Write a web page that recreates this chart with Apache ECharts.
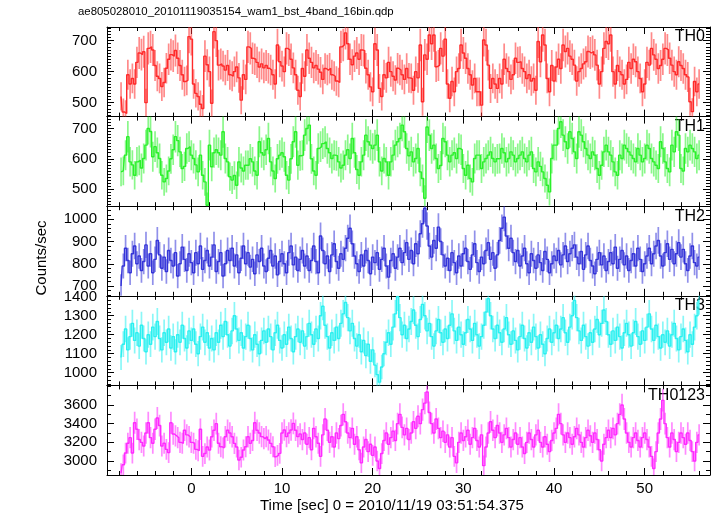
<!DOCTYPE html>
<html><head><meta charset="utf-8">
<script src="https://cdn.jsdelivr.net/npm/echarts@6/dist/echarts.min.js"></script>
<style>html,body{margin:0;padding:0;background:#fff}#c{width:717px;height:516px}</style>
</head><body><div id="c"></div>
<script>
const chartTitle = "ae805028010_20101119035154_wam1_bst_4band_16bin.qdp";
const xTitle = "Time [sec] 0 = 2010/11/19 03:51:54.375";
const yTitle = "Counts/sec";
const bandNames = ["TH0", "TH1", "TH2", "TH3", "TH0123"];
const tStart = -7.875;
const binWidth = 0.25;
const xTickLabels = [0, 10, 20, 30, 40, 50];

const th0 = [
520,470,465,590,560,578,560,630, 660,655,664,500,675,680,670,620,
585,578,552,565,611,640,655,650, 668,643,620,590,568,572,713,705,
560,530,520,495,481,650,622,600, 498,729,700,621,625,618,605,620,
590,585,600,615,580,508,590,575, 680,675,643,640,630,615,625,612,
620,611,605,590,560,686,632,618, 600,675,670,640,612,590,540,520,
610,585,670,643,630,612,620,608, 598,575,610,605,611,590,585,570,
565,680,686,725,690,640,622,650, 660,640,670,668,611,590,551,535,
690,670,546,520,590,580,630,600, 585,573,611,605,590,575,610,580,
578,540,600,580,686,503,654,640, 718,690,718,616,620,675,650,705,
560,514,568,535,600,610,686,660, 643,610,590,557,578,535,535,492,
702,686,621,546,578,560,546,578, 560,640,610,600,575,590,643,630,
632,610,600,578,590,570,578,540, 697,632,718,686,578,535,620,570,
615,640,610,686,665,675,650,640, 621,570,600,610,625,632,665,660,
665,654,621,560,600,675,697,690, 718,600,560,620,600,590,560,575,
630,610,640,632,600,578,535,560, 630,621,675,654,640,610,620,640,
675,670,643,621,600,590,632,620, 610,590,583,503,471,568,535,560];

const th1 = [
557,560,612,673,590,580,546,590, 595,570,601,645,700,690,607,640,
620,601,546,524,535,560,600,630, 673,660,623,568,575,634,640,612,
601,580,557,612,546,524,447,645, 574,620,630,620,612,689,601,590,
541,530,545,513,590,570,560,579, 579,600,590,560,546,656,620,612,
630,667,590,560,535,600,612,620, 607,546,530,600,656,689,579,610,
612,678,700,711,600,560,546,634, 640,650,656,634,620,601,612,610,
590,570,579,612,630,601,667,620, 565,546,590,612,678,656,645,634,
645,678,590,560,601,590,546,590, 612,645,656,667,711,689,634,610,
623,590,601,634,557,535,470,705, 678,634,645,601,568,578,667,656,
612,590,612,620,601,634,630,568, 546,579,535,524,601,612,612,568,
590,601,612,623,601,590,600,601, 634,620,590,601,623,612,590,601,
612,623,601,590,612,623,568,557, 590,575,557,535,513,491,601,645,
645,700,722,678,656,634,689,667, 623,601,689,678,656,634,612,601,
623,612,568,546,579,623,645,623, 612,590,557,546,612,601,645,634,
623,612,601,590,634,612,590,601, 645,634,601,590,579,568,656,634,
590,568,557,645,623,689,678,568, 560,634,623,645,634,623,601,612];

const th2 = [
700,790,870,815,760,845,880,800, 835,770,810,885,790,845,760,820,
905,840,780,830,765,860,815,790, 850,745,800,875,820,770,845,805,
760,850,800,880,775,815,860,790, 830,885,765,810,850,745,800,860,
815,870,790,840,760,825,880,800, 850,785,820,755,840,810,870,790,
765,825,860,790,835,750,810,845, 800,760,850,880,795,830,770,820,
860,790,835,770,815,880,810,760, 925,860,800,835,765,840,890,810,
780,845,820,870,915,960,890,835, 800,765,840,790,860,815,755,830,
805,850,775,820,870,790,740,815, 845,780,830,870,805,850,895,820,
860,800,890,845,935,980,1050,970, 880,830,905,870,965,900,840,790,
825,770,850,805,760,835,790,845, 870,810,775,840,890,805,765,830,
800,860,895,820,850,780,840,905, 960,1010,925,870,915,850,810,860,
790,835,870,800,760,845,815,780, 840,805,770,855,820,760,800,835,
815,860,795,840,880,810,845,870, 885,830,800,855,775,840,880,815,
790,755,820,850,795,835,770,810, 850,800,875,780,820,860,795,835,
770,815,845,790,870,820,765,800, 835,870,800,845,880,905,835,790,
850,890,820,865,800,845,895,830, 865,800,770,835,880,805,790,830];

const th3 = [
1080,1150,1230,1120,1190,1260,1170,1210, 1140,1250,1180,1110,1200,1150,1240,1190,
1270,1180,1120,1210,1160,1230,1130,1190, 1110,1200,1160,1250,1180,1130,1220,1170,
1230,1150,1100,1190,1240,1160,1210,1130, 1180,1120,1210,1160,1250,1190,1270,1200,
1140,1220,1300,1230,1170,1210,1130,1190, 1250,1180,1120,1200,1150,1100,1170,1220,
1160,1230,1190,1120,1210,1250,1170,1130, 1200,1150,1240,1180,1110,1190,1230,1160,
1220,1140,1190,1260,1200,1150,1230,1180, 1300,1350,1250,1190,1130,1210,1170,1240,
1180,1260,1310,1370,1290,1220,1260,1180, 1140,1200,1110,1170,1090,1150,1060,1120,
1040,990,950,1030,1100,1160,1210,1150, 1240,1310,1400,1290,1200,1250,1180,1230,
1270,1330,1250,1190,1280,1360,1300,1220, 1260,1190,1140,1220,1280,1210,1160,1230,
1180,1250,1310,1220,1170,1240,1200,1150, 1210,1280,1230,1170,1260,1200,1140,1190,
1250,1320,1390,1300,1230,1180,1250,1210, 1160,1230,1290,1200,1150,1220,1170,1120,
1190,1250,1180,1130,1210,1160,1240,1190, 1130,1200,1150,1100,1180,1230,1160,1210,
1250,1180,1230,1290,1210,1160,1240,1300, 1380,1290,1220,1170,1250,1190,1140,1210,
1160,1230,1280,1200,1260,1330,1270,1200, 1150,1220,1170,1240,1190,1130,1210,1260,
1200,1140,1210,1270,1190,1150,1220,1170, 1240,1310,1230,1170,1250,1190,1130,1200,
1160,1220,1140,1200,1260,1180,1120,1190, 1230,1170,1110,1200,1150,1240,1300,1380];

const th0123 = [
2870,2960,3085,3190,3250,3085,3410,3340, 3230,3200,3160,3300,3410,3250,3190,3340,
3460,3380,3160,3190,3125,3090,3410,3290, 3270,3250,3200,3190,3330,3280,3260,3200,
3190,3125,3110,3340,3050,3080,3150,3118, 3260,3330,3400,3190,3153,3140,3260,3330,
3300,3260,3189,3150,3010,3040,3118,3153, 3260,3189,3220,3410,3330,3300,3261,3240,
3261,3225,3189,3153,3046,3060,3082,3300, 3332,3261,3300,3332,3403,3330,3261,3290,
3230,3300,3180,3250,3120,3350,3260,3190, 3050,3280,3450,3330,3200,3260,3150,3300,
3240,3380,3500,3420,3300,3250,3350,3180, 3260,3120,2980,3150,3230,3100,3180,3060,
3150,3000,2920,3080,3220,3300,3180,3250, 3320,3220,3400,3500,3360,3280,3350,3230,
3300,3420,3350,3480,3400,3550,3620,3740, 3520,3400,3300,3450,3350,3250,3320,3200,
3280,3150,3250,3050,2980,3200,3300,3220, 3260,3330,3180,3250,3350,3220,3150,3280,
2950,3150,3300,3420,3330,3250,3380,3300, 3200,3280,3350,3250,3150,3230,3300,3180,
3250,3150,3080,3200,3300,3230,3150,3280, 3330,3200,3150,3260,3180,3100,3220,3300,
3350,3500,3400,3280,3200,3300,3250,3180, 3260,3350,3280,3200,3150,3250,3330,3270,
3200,3300,3230,3120,3000,3180,3250,3330, 3250,3350,3280,3400,3500,3600,3450,3300,
3200,3150,3250,3300,3220,3150,3250,3300, 3230,3150,3050,2920,3100,3300,3450,3650,
3400,3250,3150,3300,3230,3100,3200,3300, 3250,3180,3300,3220,3100,3000,3200,3280];

const yTickLabels = [[500,600,700],[500,600,700],[700,800,900,1000],[1000,1100,1200,1300,1400],[3000,3200,3400,3600]];
const yMinorStep = [10,10,20,20,100];
const yRanges = [[455,744],[444,739],[656,1059],[933,1405],[2850,3810]];
const xRange = [-9.3, 57.2];
const xMinorStep = 2;
const colors = ["#ff2a2a", "#2af02a", "#3434d8", "#2af0f0", "#ff2aff"];
const allSeries = [th0, th1, th2, th3, th0123];

const FONT = '"Liberation Sans", Arial, Helvetica, sans-serif';
const L = 107, R = 7, TOP = 27, BOT = 475;
const PH = (BOT - TOP) / 5;

function stepVals(a, b, s) { const out = []; for (let v = Math.ceil(a / s) * s; v <= b + 1e-9; v += s) out.push(+v.toFixed(6)); return out; }

const grid = [], xAxis = [], yAxis = [], series = [], graphic = [];
const xMinor = stepVals(xRange[0], xRange[1], xMinorStep);
const plain = v => String(v);
for (let p = 0; p < 5; p++) {
  const g = { left: L, right: R, top: TOP + p * PH, height: PH };
  grid.push(Object.assign({}, g), Object.assign({}, g));
  const line = { show: true, onZero: false, lineStyle: { color: '#000', width: 1 } };
  const noLine = { show: false, onZero: false };
  const baseX = { type: 'value', min: xRange[0], max: xRange[1], splitLine: { show: false } };
  xAxis.push(Object.assign({}, baseX, { gridIndex: 2 * p, position: 'bottom', axisLine: line,
    axisTick: { show: true, inside: true, length: 7, customValues: xTickLabels, lineStyle: { color: '#000' } },
    axisLabel: { show: p === 4, customValues: xTickLabels, formatter: plain, color: '#000', fontSize: 15, fontFamily: FONT, margin: 6 } }));
  xAxis.push(Object.assign({}, baseX, { gridIndex: 2 * p, position: 'top', axisLine: line,
    axisTick: { show: true, inside: true, length: 7, customValues: xTickLabels, lineStyle: { color: '#000' } },
    axisLabel: { show: false } }));
  xAxis.push(Object.assign({}, baseX, { gridIndex: 2 * p + 1, position: 'bottom', axisLine: noLine,
    axisTick: { show: true, inside: true, length: 4, customValues: xMinor, lineStyle: { color: '#000' } },
    axisLabel: { show: false } }));
  xAxis.push(Object.assign({}, baseX, { gridIndex: 2 * p + 1, position: 'top', axisLine: noLine,
    axisTick: { show: true, inside: true, length: 4, customValues: xMinor, lineStyle: { color: '#000' } },
    axisLabel: { show: false } }));
  const yr = yRanges[p];
  const baseY = { type: 'value', min: yr[0], max: yr[1], splitLine: { show: false } };
  const yMinor = stepVals(yr[0], yr[1], yMinorStep[p]);
  yAxis.push(Object.assign({}, baseY, { gridIndex: 2 * p, position: 'left', axisLine: line,
    axisTick: { show: true, inside: true, length: 7, customValues: yTickLabels[p], lineStyle: { color: '#000' } },
    axisLabel: { show: true, customValues: yTickLabels[p], formatter: plain, color: '#000', fontSize: 15, fontFamily: FONT, margin: 10 } }));
  yAxis.push(Object.assign({}, baseY, { gridIndex: 2 * p, position: 'right', axisLine: line,
    axisTick: { show: true, inside: true, length: 7, customValues: yTickLabels[p], lineStyle: { color: '#000' } },
    axisLabel: { show: false } }));
  yAxis.push(Object.assign({}, baseY, { gridIndex: 2 * p + 1, position: 'left', axisLine: noLine,
    axisTick: { show: true, inside: true, length: 4, customValues: yMinor, lineStyle: { color: '#000' } },
    axisLabel: { show: false } }));
  yAxis.push(Object.assign({}, baseY, { gridIndex: 2 * p + 1, position: 'right', axisLine: noLine,
    axisTick: { show: true, inside: true, length: 4, customValues: yMinor, lineStyle: { color: '#000' } },
    axisLabel: { show: false } }));

  const vals = allSeries[p];
  const pts = vals.map((v, i) => [tStart + binWidth * (i + 0.5), v]);
  const errPts = vals.map((v, i) => [tStart + binWidth * (i + 0.5), v, Math.sqrt(v * binWidth) / binWidth]);
  const col = colors[p];
  series.push({
    type: 'custom', xAxisIndex: 4 * p, yAxisIndex: 4 * p, data: errPts, clip: true, silent: true,
    encode: { x: 0, y: 1 },
    renderItem: (params, api) => {
      const x = api.value(0), v = api.value(1), e = api.value(2);
      const a = api.coord([x, v - e]), b = api.coord([x, v + e]);
      return { type: 'line', shape: { x1: a[0], y1: a[1], x2: b[0], y2: b[1] },
        style: { stroke: col, lineWidth: 1.7, opacity: 0.55 } };
    }
  });
  series.push({
    type: 'line', xAxisIndex: 4 * p, yAxisIndex: 4 * p, data: pts, step: 'middle',
    showSymbol: false, symbol: 'none', clip: true, silent: true,
    lineStyle: { color: col, width: 1.4 }
  });
  graphic.push({ type: 'text', right: 12, top: TOP + p * PH + 2,
    style: { text: bandNames[p], fill: '#000', fontSize: 16, fontFamily: FONT } });
}
graphic.push({ type: 'text', left: 78, top: 6, style: { text: chartTitle, fill: '#000', fontSize: 11.4, fontFamily: FONT } });
graphic.push({ type: 'text', left: 260, top: 498, style: { text: xTitle, fill: '#000', fontSize: 15, fontFamily: FONT } });
graphic.push({ type: 'text', x: 42, y: 258, rotation: Math.PI / 2,
  style: { text: yTitle, fill: '#000', fontSize: 15, fontFamily: FONT, align: 'center', verticalAlign: 'middle' } });

const chart = echarts.init(document.getElementById('c'), null, { renderer: 'canvas' });
chart.setOption({ animation: false, backgroundColor: '#fff', grid, xAxis, yAxis, series, graphic });
</script></body></html>
